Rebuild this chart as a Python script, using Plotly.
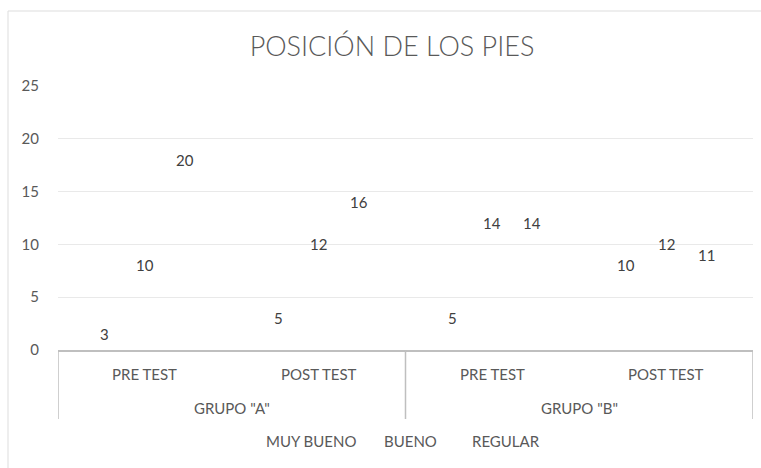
import plotly.graph_objects as go

# Figure geometry (pixels)
W, H = 761, 468
ML, MR, MT, MB = 58, 8, 86, 118

# Data
groups = ['GRUPO "A"', 'GRUPO "B"']
tests = ["PRE TEST", "POST TEST"]
series_names = ["MUY BUENO", "BUENO", "REGULAR"]
muy_bueno = [3, 5, 5, 10]
bueno = [10, 12, 14, 12]
regular = [20, 16, 14, 11]
y_ticks = [0, 5, 10, 15, 20, 25]

series_values = [muy_bueno, bueno, regular]
categories = [(g, t) for g in groups for t in tests]
cat_idx = list(range(len(categories)))

BAR_W = 0.23
FONT = "Lato"
TXT = "#595959"
LINE = "#BFBFBF"
PLOT_H = H - MT - MB
PX_PER_UNIT = PLOT_H / 25.0


def px(p):
    return (p - ML) / (W - ML - MR)


def py(p):
    return (H - MB - p) / PLOT_H


fig = go.Figure()
annotations = []

for s, (name, vals) in enumerate(zip(series_names, series_values)):
    fig.add_trace(go.Bar(
        name=name, x=cat_idx, y=vals, width=BAR_W,
        offset=(s - 1.5) * BAR_W,
        marker=dict(color="rgba(255,255,255,0)", line=dict(width=0)),
        hoverinfo="skip", showlegend=False,
    ))
    # value labels sit just inside the top of each bar
    for i, v in zip(cat_idx, vals):
        annotations.append(dict(
            x=i + (s - 1) * BAR_W, y=v, xref="x", yref="y",
            text=str(v), showarrow=False,
            yshift=-min(21, v * PX_PER_UNIT / 2), yanchor="middle",
            font=dict(family=FONT, size=15, color="#404040"),
        ))

# inner category labels
for i, (g, t) in enumerate(categories):
    annotations.append(dict(
        x=i, y=py(374), xref="x", yref="paper", text=t, showarrow=False,
        yanchor="middle", font=dict(family=FONT, size=15, color=TXT),
    ))
# outer group labels
for k, g in enumerate(groups):
    annotations.append(dict(
        x=2 * k + 0.5, y=py(408), xref="x", yref="paper", text=g,
        showarrow=False, yanchor="middle",
        font=dict(family=FONT, size=15, color=TXT),
    ))

# legend entries (the series carry no visible swatch)
legend_x = [311, 410, 506]
for name, lx in zip(series_names, legend_x):
    annotations.append(dict(
        x=px(lx), y=py(441), xref="paper", yref="paper", text=name,
        showarrow=False, xanchor="center", yanchor="middle",
        font=dict(family=FONT, size=15, color=TXT),
    ))

shapes = []
# category box separators
for xv in [-0.5, 1.5, 3.5]:
    shapes.append(dict(type="line", xref="x", yref="paper", x0=xv, x1=xv,
                       y0=0, y1=py(419), line=dict(color=LINE, width=1.5)))
# chart area border
shapes.append(dict(type="rect", xref="paper", yref="paper",
                   x0=px(8), x1=px(790), y0=py(11), y1=py(490),
                   line=dict(color="#DDDDDD", width=1)))

fig.update_layout(
    width=W, height=H,
    margin=dict(l=ML, r=MR, t=MT, b=MB),
    paper_bgcolor="white", plot_bgcolor="white",
    barmode="overlay",
    showlegend=False,
    title=dict(text="POSICIÓN DE LOS PIES", x=px(392), xref="paper",
               xanchor="center", y=1 - 47 / H, yanchor="middle",
               font=dict(family=FONT, size=27, color=TXT, weight=300)),
    xaxis=dict(range=[-0.5, 3.5], showticklabels=False, showgrid=False,
               zeroline=False, showline=True, linecolor=LINE, linewidth=2,
               ticks="", fixedrange=True),
    yaxis=dict(range=[0, 25], tickvals=y_ticks, showgrid=True,
               gridcolor="#E9E9E9", gridwidth=1, zeroline=False,
               showline=False, ticks="", ticklabelstandoff=18,
               tickfont=dict(family=FONT, size=15, color=TXT)),
    annotations=annotations,
    shapes=shapes,
)

fig.write_html("out.html")
